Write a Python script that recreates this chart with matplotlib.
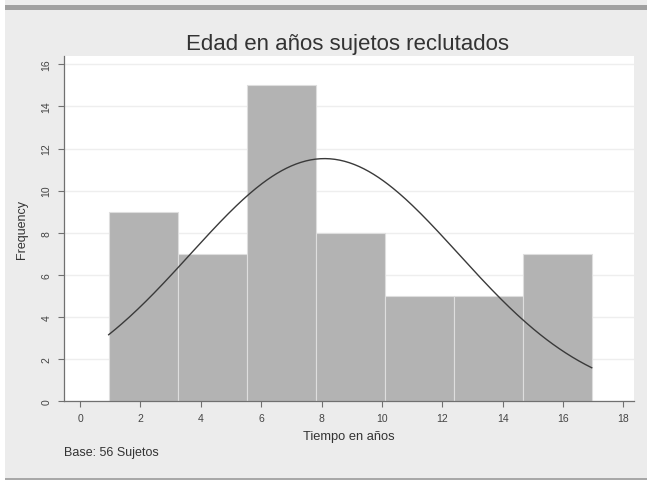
import numpy as np
import matplotlib
matplotlib.use('Agg')
import matplotlib.pyplot as plt
from matplotlib.patches import Rectangle

plt.rcParams['font.family'] = ['Liberation Sans', 'DejaVu Sans']

# datos del histograma (7 bins entre 1 y 17)
bin_edges = [0.95, 3.24, 5.52, 7.81, 10.1, 12.38, 14.67, 16.95]
frecuencias = [9, 7, 15, 8, 5, 5, 7]
media = 8.1
desv = 4.44
n_sujetos = 56
xticks = [0, 2, 4, 6, 8, 10, 12, 14, 16, 18]
yticks = [0, 2, 4, 6, 8, 10, 12, 14, 16]

fig = plt.figure(figsize=(6.47, 4.81), dpi=100)
fig.patch.set_facecolor('#ececec')

# marco de la ventana
fig.patches.append(Rectangle((0, 0), 5 / 647, 1, transform=fig.transFigure,
                             facecolor='white', edgecolor='none', zorder=0))
fig.patches.append(Rectangle((5 / 647, 1 - 11 / 481), 1, 5 / 481, transform=fig.transFigure,
                             facecolor='#a0a0a0', edgecolor='none', zorder=0))
fig.patches.append(Rectangle((5 / 647, 0), 1, 2 / 481, transform=fig.transFigure,
                             facecolor='#a8a8a8', edgecolor='none', zorder=0))

ax = fig.add_axes([64 / 647, 1 - 402 / 481, 570 / 647, 345 / 481])
ax.set_facecolor('white')

widths = np.diff(bin_edges)
ax.bar(bin_edges[:-1], frecuencias, width=widths, align='edge',
       color='#b3b3b3', edgecolor='#dedede', linewidth=0.8, zorder=2)

x = np.linspace(bin_edges[0], bin_edges[-1], 300)
escala = n_sujetos * widths[0]
y = escala / (desv * np.sqrt(2 * np.pi)) * np.exp(-0.5 * ((x - media) / desv) ** 2)
ax.plot(x, y, color='#3a3a3a', linewidth=1.0, zorder=3)

ax.set_xlim(-0.53, 18.35)
ax.set_ylim(0, 16.4)
ax.set_xticks(xticks)
ax.set_yticks(yticks)
ax.yaxis.grid(True, color='#eeeeee', linewidth=1.0, zorder=0)
ax.set_axisbelow(True)

for s in ['top', 'right']:
    ax.spines[s].set_visible(False)
for s in ['left', 'bottom']:
    ax.spines[s].set_color('#707070')
    ax.spines[s].set_linewidth(0.9)

ax.tick_params(axis='both', length=4, width=0.8, color='#707070',
               labelsize=7.5, labelcolor='#444444', pad=5)
for lbl in ax.get_yticklabels():
    lbl.set_rotation(90)
    lbl.set_va('center')

ax.set_xlabel('Tiempo en años', fontsize=9.3, color='#333333', labelpad=5)
ax.set_ylabel('Frequency', fontsize=9, color='#333333', labelpad=10)
fig.text(348 / 647, 1 - 45 / 481, 'Edad en años sujetos reclutados',
         ha='center', va='center', fontsize=16, color='#333333')
fig.text(64 / 647, 1 - 453 / 481, 'Base: 56 Sujetos', ha='left', va='center',
         fontsize=9, color='#333333')

fig.savefig('out.png', dpi=100, facecolor=fig.get_facecolor())
